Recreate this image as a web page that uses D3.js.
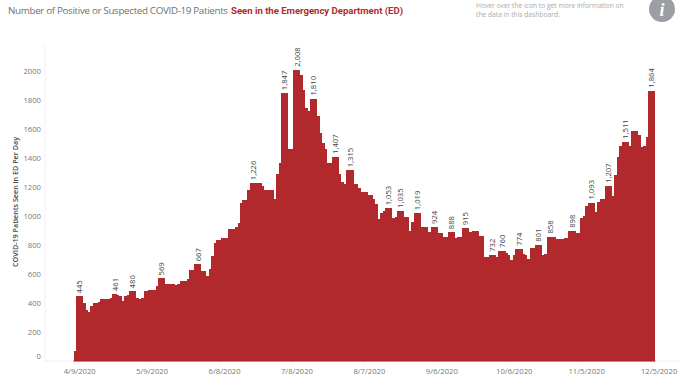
<!DOCTYPE html>
<html>
<head>
<meta charset="utf-8">
<script src="https://cdn.jsdelivr.net/npm/d3@7"></script>
<style>
    html, body { margin: 0; padding: 0; background: #fff; overflow: hidden; }
    text { font-family: "Open Sans", sans-serif; }
</style>
</head>
<body>
<svg id="chart" width="680" height="387"></svg>
<script>
"use strict";

// patients per day, one value per day from 4/9/2020 to 12/5/2020
const edPatients = [
    70, 445, 445, 445, 402, 350, 335, 379, 398, 398,
    409, 425, 428, 428, 430, 432, 461, 461, 455, 448,
    416, 450, 452, 480, 480, 480, 437, 428, 437, 483,
    485, 487, 487, 487, 519, 569, 569, 569, 532, 532,
    530, 530, 527, 530, 550, 550, 552, 563, 627, 627,
    667, 667, 667, 618, 618, 583, 634, 724, 816, 837,
    837, 846, 846, 846, 912, 912, 912, 922, 954, 1092,
    1108, 1108, 1177, 1226, 1226, 1226, 1226, 1226, 1207, 1177,
    1177, 1177, 1177, 1115, 1288, 1368, 1847, 1847, 1847, 1464,
    1464, 2008, 2008, 2008, 1975, 1870, 1747, 1726, 1810, 1810,
    1810, 1692, 1575, 1501, 1464, 1368, 1368, 1407, 1407, 1407,
    1288, 1237, 1223, 1315, 1315, 1315, 1221, 1221, 1191, 1168,
    1168, 1168, 1142, 1142, 1115, 1085, 979, 1023, 1032, 1053,
    1053, 1053, 988, 995, 1035, 1035, 1035, 991, 991, 899,
    959, 1019, 1019, 1019, 926, 926, 926, 892, 924, 924,
    924, 880, 880, 853, 853, 888, 888, 888, 850, 857,
    857, 915, 915, 915, 887, 897, 897, 897, 864, 864,
    720, 720, 732, 732, 732, 720, 760, 760, 760, 747,
    731, 699, 731, 774, 774, 774, 736, 729, 705, 777,
    777, 801, 801, 801, 731, 738, 858, 858, 858, 858,
    843, 843, 843, 850, 850, 898, 898, 898, 880, 880,
    988, 1002, 1071, 1093, 1093, 1093, 1030, 1099, 1115, 1115,
    1207, 1207, 1207, 1140, 1283, 1409, 1485, 1511, 1511, 1511,
    1485, 1588, 1588, 1588, 1559, 1473, 1483, 1543, 1864, 1864,
    1864
];

// days that carry a value label
const labelledDays = [2, 17, 24, 36, 51, 74, 87, 92, 99, 108, 114, 130, 135, 142, 149, 156, 162, 173, 177, 184, 192, 197, 206, 214, 221, 228, 239];

const tickDays = [0, 30, 60, 90, 120, 150, 180, 210, 240];
const tickDates = ["4/9/2020", "5/9/2020", "6/8/2020", "7/8/2020", "8/7/2020", "9/6/2020", "10/6/2020", "11/5/2020", "12/5/2020"];
const yTicks = [0, 200, 400, 600, 800, 1000, 1200, 1400, 1600, 1800, 2000];

const titleGrey = "Number of Positive or Suspected COVID-19 Patients";
const titleRed = "Seen in the Emergency Department (ED)";
const yTitle = "COVID-19 Patients Seen in ED Per Day";
const hoverLines = ["Hover over the icon to get more information on", "the data in this dashboard."];

const barColor = "#b2292d";

const svg = d3.select("#chart");

const x = d3.scaleBand()
    .domain(d3.range(edPatients.length))
    .range([73.5, 655.3]);

const y = d3.scaleLinear()
    .domain([0, 2000])
    .range([361, 71]);

// header, two pieces so each one can be held to its width
svg.append("text")
    .attr("x", 8)
    .attr("y", 13.5)
    .attr("textLength", 220)
    .attr("fill", "#6f6f6f")
    .style("font-size", "9.8px")
    .text(titleGrey);
svg.append("text")
    .attr("x", 231)
    .attr("y", 13.5)
    .attr("textLength", 172)
    .attr("fill", "#b2292d")
    .style("font-family", "Roboto, sans-serif")
    .style("font-size", "9.6px")
    .style("font-weight", "bold")
    .text(titleRed);

svg.selectAll(".hover")
    .data(hoverLines)
    .enter().append("text")
    .attr("class", "hover")
    .attr("x", 476)
    .attr("y", (d, i) => 7.5 + i * 9.7)
    .attr("fill", "#a9a9a9")
    .style("font-size", "6.7px")
    .text(d => d);

// info icon
svg.append("circle")
    .attr("cx", 662)
    .attr("cy", 9)
    .attr("r", 13)
    .attr("fill", "#9b9ea3");
svg.append("text")
    .attr("x", 662)
    .attr("y", 16)
    .attr("text-anchor", "middle")
    .attr("fill", "#fff")
    .style("font-family", "'Liberation Serif', serif")
    .style("font-style", "italic")
    .style("font-weight", "bold")
    .style("font-size", "18px")
    .text("i");

// y axis
const yAxis = svg.append("g")
    .attr("transform", "translate(45,0)")
    .call(d3.axisLeft(y).tickValues(yTicks).tickFormat(d3.format("d")).tickSize(0).tickPadding(4));
yAxis.select(".domain").attr("stroke", "#f0f0f0").attr("d", "M0,45V361");
yAxis.selectAll("text")
    .attr("fill", "#777")
    .style("font-family", "'Open Sans', sans-serif")
    .style("font-size", "7.7px");
// the zero label sits a little above its position
yAxis.selectAll(".tick").filter(d => d === 0).select("text").attr("dy", "-0.33em");

svg.append("text")
    .attr("transform", "translate(18,202) rotate(-90)")
    .attr("text-anchor", "middle")
    .attr("fill", "#444")
    .style("font-size", "7.2px")
    .style("font-weight", "600")
    .text(yTitle);

// x axis
const xAxis = svg.append("g")
    .attr("transform", "translate(0,361)")
    .call(d3.axisBottom(x)
        .tickValues(tickDays)
        .tickFormat((d, i) => tickDates[i])
        .tickSize(3)
        .tickPadding(5));
xAxis.select(".domain").attr("stroke", "#f0f0f0").attr("d", "M45,0H680");
xAxis.selectAll("line").attr("stroke", "#f0f0f0");
xAxis.selectAll("text")
    .attr("dx", 5)
    .attr("fill", "#777")
    .style("font-family", "'Open Sans', sans-serif")
    .style("font-size", "7.7px");

// bars
svg.selectAll(".bar")
    .data(edPatients)
    .enter().append("rect")
    .attr("class", "bar")
    .attr("x", (d, i) => x(i))
    .attr("y", d => y(d))
    .attr("width", x.bandwidth())
    .attr("height", d => y(0) - y(d))
    .attr("fill", barColor)
    .attr("shape-rendering", "crispEdges");

// darker base line under the bars
svg.append("line")
    .attr("x1", x.range()[0])
    .attr("x2", x.range()[1])
    .attr("y1", y(0))
    .attr("y2", y(0))
    .attr("stroke", "#a81a1e")
    .attr("stroke-width", 1);

// value labels
svg.selectAll(".value")
    .data(labelledDays)
    .enter().append("text")
    .attr("class", "value")
    .attr("transform", d => "translate(" + (x(d) + x.bandwidth() / 2) + "," + (y(edPatients[d]) - 3) + ") rotate(-90)")
    .attr("dy", "0.35em")
    .attr("fill", "#444")
    .style("font-size", "7.7px")
    .text(d => d3.format(",")(edPatients[d]));
</script>
</body>
</html>
